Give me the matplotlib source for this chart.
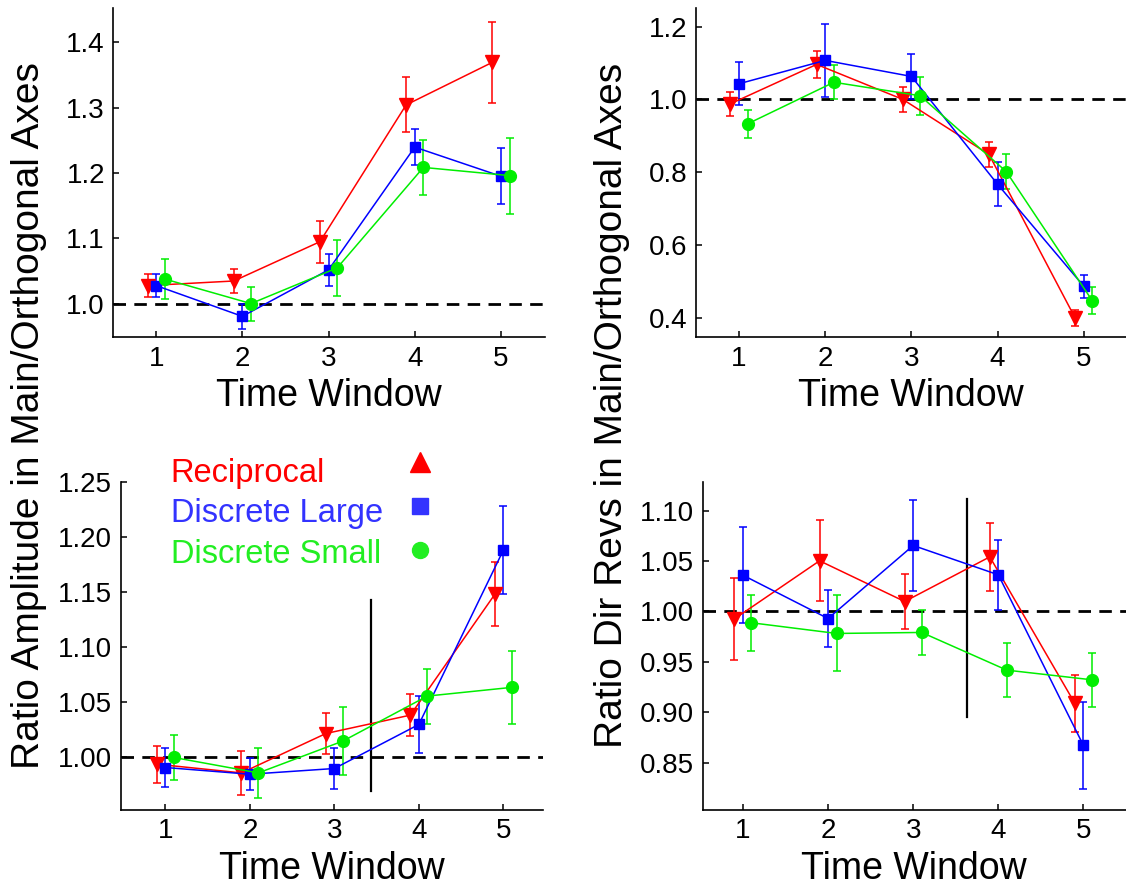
import matplotlib
matplotlib.use("Agg")
import matplotlib.pyplot as plt
import numpy as np

plt.rcParams['font.family'] = ['Liberation Sans', 'DejaVu Sans']
plt.rcParams['lines.scale_dashes'] = False

# ---------------- data ----------------
windows = [1, 2, 3, 4, 5]
series_names = ["Reciprocal", "Discrete Large", "Discrete Small"]

# Top-left: Ratio amplitude, panel A
recipA = [1.028, 1.035, 1.095, 1.304, 1.369]
recipA_err = [0.018, 0.019, 0.032, 0.042, 0.062]
largeA = [1.028, 0.981, 1.052, 1.2395, 1.195]
largeA_err = [0.018, 0.019, 0.025, 0.028, 0.043]
smallA = [1.038, 1.0005, 1.055, 1.2085, 1.196]
smallA_err = [0.031, 0.026, 0.043, 0.042, 0.058]

# Top-right: Ratio dir revs, panel B
recipB = [0.988, 1.096, 1.000, 0.849, 0.400]
recipB_err = [0.033, 0.036, 0.035, 0.035, 0.021]
largeB = [1.043, 1.107, 1.063, 0.767, 0.487]
largeB_err = [0.059, 0.100, 0.062, 0.060, 0.031]
smallB = [0.933, 1.047, 1.010, 0.802, 0.447]
smallB_err = [0.039, 0.047, 0.052, 0.047, 0.037]

# Bottom-left: panel C
recipC = [0.9936, 0.9857, 1.0215, 1.0382, 1.148]
recipC_err = [0.017, 0.020, 0.0185, 0.019, 0.029]
largeC = [0.9906, 0.9845, 0.9897, 1.0297, 1.188]
largeC_err = [0.0175, 0.0145, 0.019, 0.026, 0.040]
smallC = [0.9997, 0.9857, 1.0146, 1.0555, 1.0634]
smallC_err = [0.020, 0.023, 0.031, 0.025, 0.033]

# Bottom-right: panel D
recipD = [0.9927, 1.0503, 1.0099, 1.0542, 0.9087]
recipD_err = [0.041, 0.040, 0.027, 0.034, 0.028]
largeD = [1.036, 0.993, 1.0655, 1.0364, 0.8671]
largeD_err = [0.0477, 0.028, 0.045, 0.035, 0.043]
smallD = [0.9888, 0.9782, 0.9792, 0.9418, 0.9322]
smallD_err = [0.028, 0.0377, 0.022, 0.027, 0.027]

yticksA = [1.0, 1.1, 1.2, 1.3, 1.4]
yticksB = [0.4, 0.6, 0.8, 1.0, 1.2]
yticksC = [1.00, 1.05, 1.10, 1.15, 1.20, 1.25]
yticksD = [0.85, 0.90, 0.95, 1.00, 1.05, 1.10]

# vertical divider lines (x, ymin, ymax)
vlineC = (3.43, 0.969, 1.143)
vlineD = (3.633, 0.895, 1.112)

ylabel_left = "Ratio Amplitude in Main/Orthogonal Axes"
ylabel_right = "Ratio Dir Revs in Main/Orthogonal Axes"
xlabel = "Time Window"

# ---------------- styles ----------------
RED = '#ff0000'
BLUE = '#0000ff'
GREEN = '#00ee00'
styles = [
    dict(color=RED, marker='v', ms=9.5, offset=-0.1),
    dict(color=BLUE, marker='s', ms=7.5, offset=0.0),
    dict(color=GREEN, marker='o', ms=8.5, offset=0.1),
]

W, H = 1126, 890
fig = plt.figure(figsize=(W / 100, H / 100), dpi=100)


def px_axes(x0, y0, x1, y1):
    return fig.add_axes([x0 / W, 1 - y1 / H, (x1 - x0) / W, (y1 - y0) / H])


axA = px_axes(113.3, 8, 544.5, 337.3)
axB = px_axes(696, 8.3, 1126, 337.3)
axC = px_axes(120.7, 482, 543, 810)
axD = px_axes(702.7, 481.7, 1126, 810)

panels = [
    (axA, [(recipA, recipA_err), (largeA, largeA_err), (smallA, smallA_err)],
     (0.503, 5.505), (0.949, 1.452), yticksA, '{:.1f}'),
    (axB, [(recipB, recipB_err), (largeB, largeB_err), (smallB, smallB_err)],
     (0.5, 5.49), (0.347, 1.25), yticksB, '{:.1f}'),
    (axC, [(recipC, recipC_err), (largeC, largeC_err), (smallC, smallC_err)],
     (0.47, 5.47), (0.952, 1.25), yticksC, '{:.2f}'),
    (axD, [(recipD, recipD_err), (largeD, largeD_err), (smallD, smallD_err)],
     (0.527, 5.5), (0.803, 1.1288), yticksD, '{:.2f}'),
]

for ax, series, xl, yl, yt, fmt in panels:
    ax.axhline(1.0, color='black', lw=2.0, dashes=(9, 6), zorder=1)
    for (vals, errs), st in zip(series, styles):
        xs = np.array(windows) + st['offset']
        ax.errorbar(xs, vals, yerr=errs, color=st['color'], marker=st['marker'],
                    ms=st['ms'], mec=st['color'], mfc=st['color'], lw=1.1,
                    elinewidth=1.1, capsize=3.2, capthick=1.1, zorder=3)
    ax.set_xlim(*xl)
    ax.set_ylim(*yl)
    ax.set_xticks(windows)
    ax.set_xticklabels([str(w) for w in windows])
    ax.set_yticks(yt)
    ax.set_yticklabels([fmt.format(v) for v in yt])
    for side in ('top', 'right'):
        ax.spines[side].set_visible(False)
    for side in ('left', 'bottom'):
        ax.spines[side].set_linewidth(1.2)
    ax.tick_params(direction='in', length=4, width=1.1, labelsize=20, pad=6)
    ax.set_xlabel(xlabel, fontsize=27, labelpad=4.5)

for ax, (vx, v0, v1) in ((axC, vlineC), (axD, vlineD)):
    ax.plot([vx, vx], [v0, v1], color='black', lw=1.6, zorder=2)

# legend drawn as text + markers inside the bottom-left panel
leg_text_x = 1.06
leg_marker_x = 4.01
leg_text_y = [1.2503, 1.2139, 1.1766]
leg_marker_y = [1.2685, 1.2285, 1.188]
leg_colors = [RED, '#3333ff', '#22ee22']
leg_markers = [('^', 15), ('s', 11.5), ('o', 11.5)]
for name, ty, my, c, (m, ms) in zip(series_names, leg_text_y, leg_marker_y,
                                     leg_colors, leg_markers):
    axC.text(leg_text_x, ty, name, color=c, fontsize=23.5, ha='left',
             va='baseline', clip_on=False)
    axC.plot([leg_marker_x], [my], marker=m, ms=ms, color=c, ls='none',
             clip_on=False)

fig.text(29.5 / W, 1 - 416 / H, ylabel_left, rotation=90, fontsize=28,
         ha='center', va='center')
fig.text(612.5 / W, 1 - 405.5 / H, ylabel_right, rotation=90, fontsize=28,
         ha='center', va='center')

fig.savefig('out.png', dpi=100)
